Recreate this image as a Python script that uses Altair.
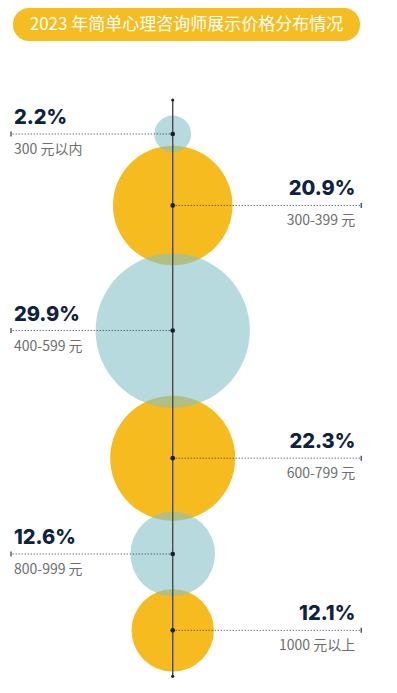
import altair as alt
import pandas as pd
import numpy as np

# ---- data ----
title_text = "2023 年简单心理咨询师展示价格分布情况"
categories = ["300 元以内", "300-399 元", "400-599 元", "600-799 元", "800-999 元", "1000 元以上"]
shares = [2.2, 20.9, 29.9, 22.3, 12.6, 12.1]

# ---- size scale (symbol size = bounding-box area, diameter = sqrt(size)) ----
VMAX = max(shares)
S0, S1 = 900.0, 900.0 + 140.0 * VMAX ** 1.5
EXP = 1.5
size_scale = alt.Scale(type="pow", exponent=EXP, domain=[0, VMAX], range=[S0, S1])

def radius_of(v):
    return np.sqrt(S0 + (S1 - S0) * (v / VMAX) ** EXP) / 2

# ---- layout (derived from the data) ----
W, H = 381, 677
PACK = 0.914      # bubbles overlap slightly
r = radius_of(np.array(shares))
centers = [0.0]
for i in range(1, len(r)):
    centers.append(centers[-1] + PACK * (r[i - 1] + r[i]))
centers = np.array(centers)

y_dom = [-126, H - 126]
x_dom = [-163, W - 163]

side = ["left" if i % 2 == 0 else "right" for i in range(len(shares))]
df = pd.DataFrame({
    "cat": categories,
    "share": shares,
    "label": [f"{v}%" for v in shares],
    "yc": centers,
    "side": side,
    "kind": ["blue" if i % 2 == 0 else "yellow" for i in range(len(shares))],
    "x0": 0,
})
df["xend"] = np.where(df["side"] == "left", -163, 190)
df["xtext"] = np.where(df["side"] == "left", -160, 184)

xs = alt.Scale(domain=x_dom, nice=False, zero=False)
ys = alt.Scale(domain=y_dom, nice=False, zero=False, reverse=True)

X = lambda f: alt.X(f, type="quantitative", scale=xs, axis=None)
Y = lambda f: alt.Y(f, type="quantitative", scale=ys, axis=None)

base = alt.Chart(df)

yellow = base.transform_filter(alt.datum.kind == "yellow").mark_circle(
    color="#f5bb1f", opacity=1
).encode(x=X("x0"), y=Y("yc"), size=alt.Size("share:Q", scale=size_scale, legend=None))

blue = base.transform_filter(alt.datum.kind == "blue").mark_circle(
    color="#85c1c8", opacity=0.6
).encode(x=X("x0"), y=Y("yc"), size=alt.Size("share:Q", scale=size_scale, legend=None))

spine_df = pd.DataFrame({"x0": [0], "ya": [centers[0] - 34], "yb": [centers[-1] + 46]})
spine = alt.Chart(spine_df).mark_rule(color="#4a4a4a", strokeWidth=1.4).encode(
    x=X("x0"), y=Y("ya"), y2="yb")
spine_ends = alt.Chart(spine_df).transform_fold(["ya", "yb"], as_=["k", "yy"]).mark_point(
    filled=True, color="#222222", size=10, opacity=1
).encode(x=X("x0"), y=Y("yy"))

leaders = base.mark_rule(color="#2a3350", strokeWidth=1, strokeDash=[1, 2]).encode(
    x=X("x0"), x2="xend", y=Y("yc"))
leader_ticks = base.mark_point(shape="M0,-1L0,1", size=25, color="#2a3350", strokeWidth=1.2,
                               filled=False, opacity=1).encode(x=X("xend"), y=Y("yc"))
dots = base.mark_point(filled=True, color="#141c33", size=22, opacity=1).encode(
    x=X("x0"), y=Y("yc"))

def labels(which, align):
    d = base.transform_filter(alt.datum.side == which)
    pct = d.mark_text(align=align, baseline="alphabetic", dy=-10, font="Inter",
                      fontSize=20, fontWeight=800, color="#0e2242").encode(
        x=X("xtext"), y=Y("yc"), text="label:N")
    cat = d.mark_text(align=align, baseline="middle", dy=16, font="Noto Sans CJK SC",
                      fontSize=14, color="#6e6e6e").encode(
        x=X("xtext"), y=Y("yc"), text="cat:N")
    return pct + cat

title_df = pd.DataFrame({"t": [title_text]})
pill = alt.Chart(title_df).mark_rect(color="#f5bd22", cornerRadius=16).encode(
    x=alt.value(2), x2=alt.value(349), y=alt.value(0), y2=alt.value(33))
title = alt.Chart(title_df).mark_text(font="Noto Sans CJK SC", fontSize=17, color="white",
                                      align="center", baseline="middle").encode(
    x=alt.value(175.5), y=alt.value(16.5), text="t:N")

chart = alt.layer(
    yellow, blue, spine, spine_ends, leaders, leader_ticks, dots,
    labels("left", "left"), labels("right", "right"), pill, title
).properties(
    width=W, height=H, padding=0,
    autosize=alt.AutoSizeParams(type="fit", contains="padding")
).configure_view(stroke=None)

chart.save("out.html", embed_options={"renderer": "svg", "actions": False})
